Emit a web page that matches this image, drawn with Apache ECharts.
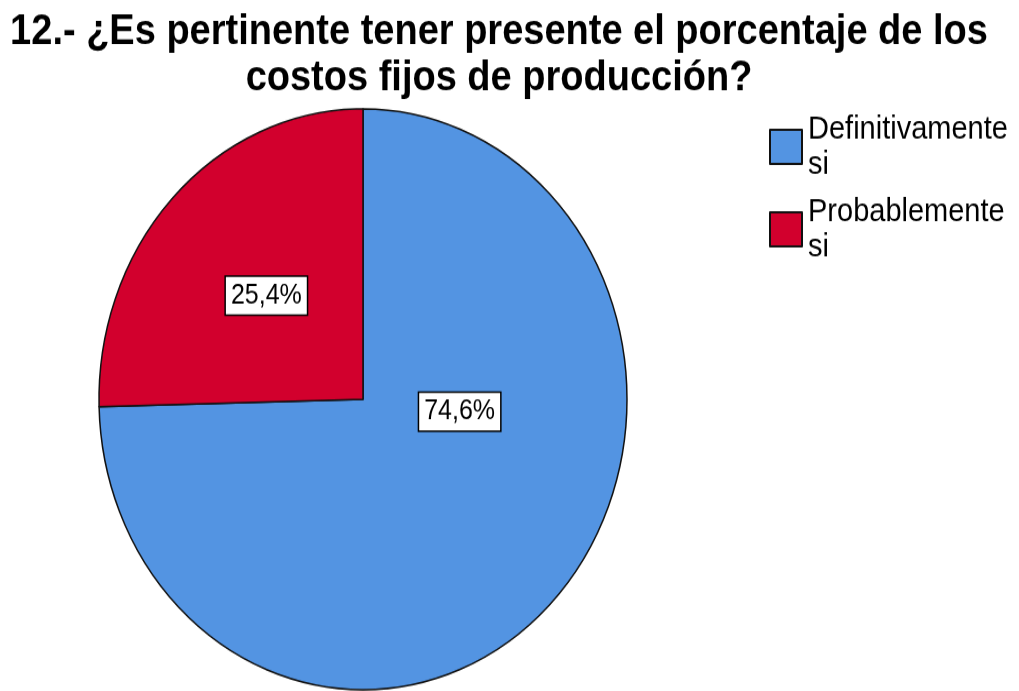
<!DOCTYPE html>
<html>
<head>
<meta charset="utf-8">
<script src="https://cdn.jsdelivr.net/npm/echarts@6/dist/echarts.min.js"></script>
<style>
  html, body { margin: 0; padding: 0; background: #fff; width: 1019px; height: 691px; overflow: hidden; }
  #wrap { width: 1019px; height: 691px; overflow: hidden; position: relative; }
  /* the original picture is stretched vertically, so the chart is too */
  #main { position: absolute; left: 0; top: 0; width: 1019px; height: 628px; transform: scaleY(1.1); transform-origin: 0 0; }
</style>
</head>
<body>
<div id="wrap"><div id="main"></div></div>
<script>
const titleText = '12.- ¿Es pertinente tener presente el porcentaje de los\ncostos fijos de producción?';
const categories = ['Definitivamente\nsi', 'Probablemente\nsi'];
const values = [74.6, 25.4];
const colors = ['#5394e2', '#d2002d'];
const labelOffsets = [[0, -83], [0, 0]];

const chart = echarts.init(document.getElementById('main'));

const option = {
  animation: false,
  title: {
    text: titleText,
    left: 494,
    textAlign: 'center',
    top: 4,
    textStyle: {
      fontFamily: 'Liberation Sans',
      fontSize: 38,
      fontWeight: 'bold',
      color: '#000',
      lineHeight: 42,
    },
  },
  legend: {
    orient: 'vertical',
    left: 764,
    top: 89,
    itemWidth: 32,
    itemHeight: 31,
    itemGap: -4,
    icon: 'rect',
    textStyle: {
      fontFamily: 'Liberation Sans',
      fontSize: 29,
      color: '#000',
      lineHeight: 32,
      padding: [15, 0, 0, 1],
    },
    data: categories,
  },
  series: [
    {
      type: 'pie',
      center: [363, 363],
      radius: 264,
      startAngle: 90,
      clockwise: true,
      itemStyle: {
        borderColor: '#111',
        borderWidth: 1.5,
      },
      label: {
        show: true,
        position: 'inside',
        formatter: (p) => p.value.toFixed(1).replace('.', ',') + '%',
        fontFamily: 'Liberation Sans',
        fontSize: 25,
        color: '#000',
        backgroundColor: '#fff',
        borderColor: '#000',
        borderWidth: 1.5,
        padding: [5, 5, 4, 5],
      },
      labelLine: { show: false },
      emphasis: { disabled: true },
      data: categories.map((name, i) => ({
        name,
        value: values[i],
        itemStyle: { color: colors[i] },
        label: { offset: labelOffsets[i] },
      })),
    },
  ],
};

chart.setOption(option);
</script>
</body>
</html>
